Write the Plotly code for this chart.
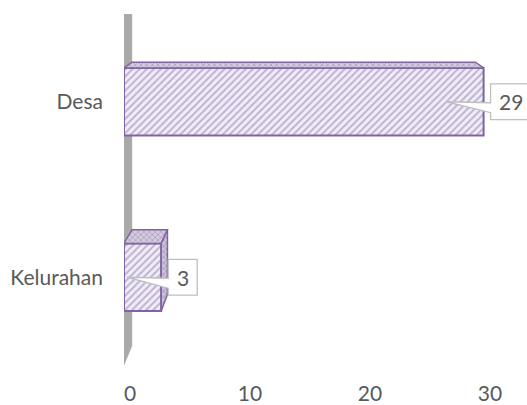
import plotly.graph_objects as go

# ---- data ----
categories = ["Kelurahan", "Desa"]
values = [3, 29]
tick_values = [0, 10, 20, 30]
tick_labels = ["0", "10", "20", "30"]

# ---- layout geometry ----
W, H = 527, 405
ML, MR, MT, MB = 124, 0, 14, 37
plot_w = W - ML - MR
plot_h = H - MT - MB
px_per_x = 12.4
x_range = [0, plot_w / px_per_x]
y_range = [-0.5, 1.5]
px_per_y = plot_h / (y_range[1] - y_range[0])
dx = 1.0 / px_per_x        # one pixel in x data units
dy = 1.0 / px_per_y        # one pixel in y data units

BAR_W = 0.385
FONT = "Lato, 'Open Sans', sans-serif"
TXT = "#595959"
PURPLE = "#8064a2"

# perspective (3D depth) in data space
VX = (300 - ML) / px_per_x
VY = 1.92
DEPTH = 0.955


def back(x, y):
    return VX + DEPTH * (x - VX), VY + DEPTH * (y - VY)


positions = list(range(len(categories)))

fig = go.Figure()

# front faces of the bars
fig.add_trace(go.Bar(
    y=positions, x=values, orientation="h", width=BAR_W,
    marker=dict(
        color="#efebf5",
        line=dict(color=PURPLE, width=2),
        pattern=dict(shape="/", fgcolor="#8b75ae", bgcolor="#f1edf7",
                     size=5, solidity=0.4),
    ),
    hoverinfo="skip", showlegend=False,
))

shapes = []

# wall (x = 0 plane)
fx0, fy0 = 0, y_range[1]
fx1, fy1 = 0, y_range[0]
b0 = back(fx0, fy0)
b1 = back(fx1, fy1)
shapes.append(dict(
    type="path", xref="x", yref="y", layer="below",
    path=f"M {fx0},{fy0} L {b0[0]},{b0[1]} L {b1[0]},{b1[1]} L {fx1},{fy1} Z",
    fillcolor="#a9a9a9", line=dict(color="#a9a9a9", width=0.5),
))

# top and side faces
for c, v in zip(positions, values):
    top = c + BAR_W / 2
    bot = c - BAR_W / 2
    bl = back(0, top)
    br = back(v, top)
    xs = [0, v, br[0], bl[0], 0]
    ys = [top, top, br[1], bl[1], top]
    fig.add_trace(go.Scatter(
        x=xs, y=ys, mode="lines", fill="toself",
        line=dict(color=PURPLE, width=1.5),
        fillcolor="#cfc6dc",
        fillpattern=dict(shape="x", fgcolor="#857898", bgcolor="#d3cbdf",
                         size=4, solidity=0.35),
        hoverinfo="skip", showlegend=False,
    ))
    if br[0] > v:
        bb = back(v, bot)
        fig.add_trace(go.Scatter(
            x=[v, br[0], bb[0], v, v], y=[top, br[1], bb[1], bot, top],
            mode="lines", fill="toself",
            line=dict(color=PURPLE, width=1.5),
            fillcolor="#c9c0d8",
            fillpattern=dict(shape="x", fgcolor="#76688e", bgcolor="#cdc4da",
                             size=4, solidity=0.35),
            hoverinfo="skip", showlegend=False,
        ))

# dummy trace for the tick-label (floor) axis
fig.add_trace(go.Scatter(x=[None], y=[None], xaxis="x2", yaxis="y",
                         hoverinfo="skip", showlegend=False))

annotations = []
# callout data labels
for c, v in zip(positions, values):
    txt = str(v)
    L = v + 7 * dx
    R = L + (len(txt) * 12 + 17) * dx
    T = c + 18 * dy
    B = c - 18 * dy
    yb1 = c - 1 * dy
    yb2 = c - 11 * dy
    tipx = max(v - 3, 0.25)
    shapes.append(dict(
        type="path", xref="x", yref="y", layer="above",
        path=(f"M {L},{T} L {R},{T} L {R},{B} L {L},{B} L {L},{yb2} "
              f"L {tipx},{c} L {L},{yb1} Z"),
        fillcolor="white", line=dict(color="#bfbfbf", width=1.3),
    ))
    annotations.append(dict(
        x=(L + R) / 2, y=c, xref="x", yref="y", text=txt, showarrow=False,
        font=dict(family=FONT, size=21, color=TXT),
        xanchor="center", yanchor="middle",
    ))

x2_start = -(130 - ML) / 12.0
x2_range = [x2_start, x2_start + plot_w / 12.0]

fig.update_layout(
    width=W, height=H, autosize=False,
    margin=dict(l=ML, r=MR, t=MT, b=MB, pad=0),
    paper_bgcolor="white", plot_bgcolor="white",
    showlegend=False,
    shapes=shapes, annotations=annotations,
    xaxis=dict(range=x_range, showgrid=False, zeroline=False, showline=False,
               showticklabels=False, ticks="", fixedrange=True),
    xaxis2=dict(range=x2_range, overlaying="x", side="bottom",
                tickvals=tick_values, ticktext=tick_labels,
                showgrid=False, zeroline=False, showline=False, ticks="",
                ticklabelstandoff=14,
                tickfont=dict(family=FONT, size=21, color=TXT),
                fixedrange=True),
    yaxis=dict(range=y_range, tickvals=positions, ticktext=categories,
               showgrid=False, zeroline=False, showline=False, ticks="",
               ticklabelstandoff=20,
               tickfont=dict(family=FONT, size=21, color=TXT),
               fixedrange=True),
)

fig.write_html("out.html", config={"displayModeBar": False})
